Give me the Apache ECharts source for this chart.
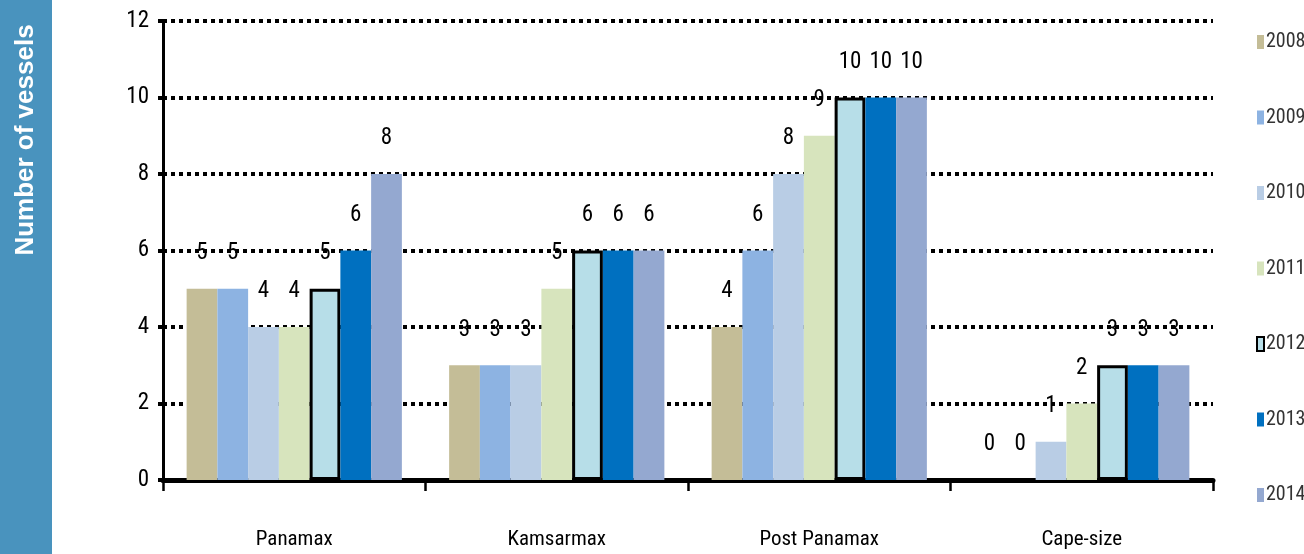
<!DOCTYPE html>
<html><head><meta charset="utf-8">
<script src="https://cdn.jsdelivr.net/npm/echarts@6/dist/echarts.min.js"></script>
<style>html,body{margin:0;padding:0;background:#fff}#c{width:1304px;height:554px}</style>
</head><body><div id="c"></div>
<script>
const categories = ['Panamax', 'Kamsarmax', 'Post Panamax', 'Cape-size'];
const years = ['2008', '2009', '2010', '2011', '2012', '2013', '2014'];
const v2008 = [5, 3, 4, 0];
const v2009 = [5, 3, 6, 0];
const v2010 = [4, 3, 8, 1];
const v2011 = [4, 5, 9, 2];
const v2012 = [5, 6, 10, 3];
const v2013 = [6, 6, 10, 3];
const v2014 = [8, 6, 10, 3];
const yTicks = [0, 2, 4, 6, 8, 10, 12];
const yAxisTitle = 'Number of vessels';

const seriesValues = [v2008, v2009, v2010, v2011, v2012, v2013, v2014];
const colors = ['#c4bd97', '#8db3e2', '#b9cde5', '#d7e4bd', '#b7dee8', '#0070c0', '#94a8d0'];
const FONT = "'Roboto Condensed', 'DejaVu Sans Condensed', sans-serif";

const chart = echarts.init(document.getElementById('c'), null, {renderer: 'canvas'});
chart.setOption({
  animation: false,
  backgroundColor: '#ffffff',
  graphic: [
    {type: 'rect', left: 0, top: 0, shape: {width: 52, height: 554}, style: {fill: '#4993be'}, z: 0},
    {type: 'text', x: 26, y: 140, rotation: Math.PI / 2,
     style: {text: yAxisTitle, fill: '#ffffff', font: "bold 26px 'Liberation Sans', Arial, sans-serif",
             align: 'center', verticalAlign: 'middle'}, z: 1}
  ],
  legend: {
    orient: 'vertical', left: 1251, top: 27, itemGap: 55.5,
    itemWidth: 7, itemHeight: 14, icon: 'rect',
    textStyle: {fontFamily: FONT, fontSize: 20, color: '#333333', padding: [0, 0, 0, -3]},
    data: years
  },
  grid: {left: 163, right: 91, top: 21, bottom: 74, containLabel: false},
  xAxis: {
    type: 'category', data: categories,
    axisLine: {lineStyle: {color: '#000', width: 5}},
    axisTick: {show: true, alignWithLabel: false, length: 11, lineStyle: {color: '#000', width: 2.5}},
    axisLabel: {margin: 49, fontFamily: FONT, fontSize: 21, color: '#000'},
    splitLine: {show: false}
  },
  yAxis: {
    type: 'value', min: yTicks[0], max: yTicks[yTicks.length - 1], interval: 2,
    axisLine: {show: true, lineStyle: {color: '#000', width: 3}},
    axisTick: {show: true, length: 5, lineStyle: {color: '#000', width: 4}},
    axisLabel: {margin: 14, fontFamily: FONT, fontSize: 23, color: '#000'},
    splitLine: {show: true, lineStyle: {color: '#000', width: 4, type: 'dotted'}}
  },
  series: years.map((y, i) => ({
    name: y, type: 'bar', data: seriesValues[i],
    barGap: '0%', barCategoryGap: '18%',
    itemStyle: i === 4
      ? {color: colors[i], borderColor: '#000', borderWidth: 3}
      : {color: colors[i]},
    label: {show: true, position: 'top', distance: 24, fontFamily: FONT, fontSize: 23, color: '#000'}
  }))
});
</script></body></html>
